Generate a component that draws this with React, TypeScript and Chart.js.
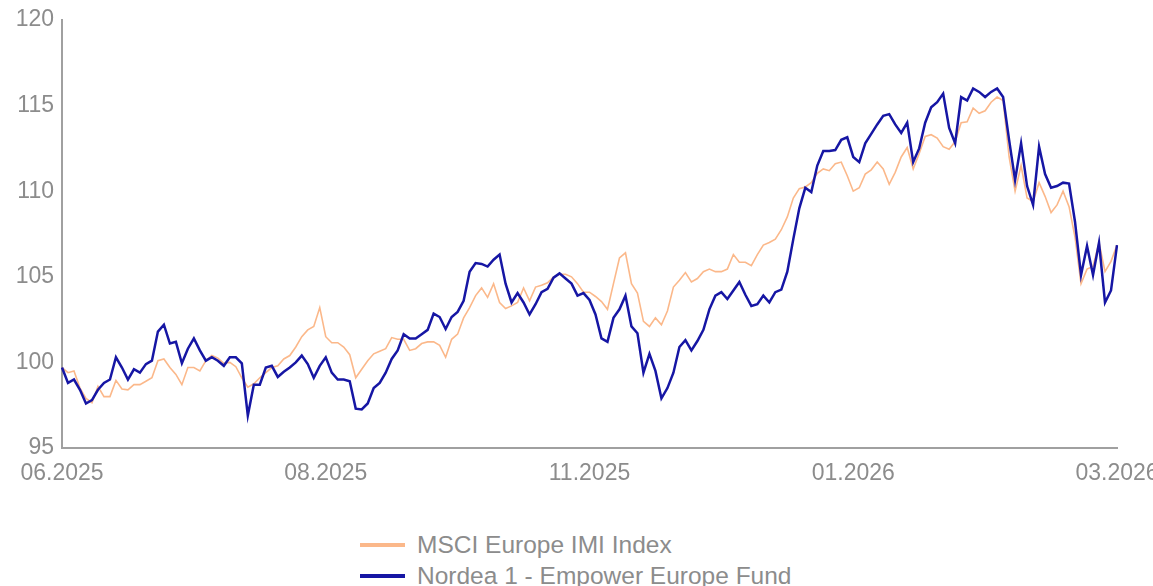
import React, { useEffect, useRef } from "react";
import { Chart, registerables } from "chart.js";

Chart.register(...registerables);

const xTickLabels = ["06.2025", "08.2025", "11.2025", "01.2026", "03.2026"];
const tickEvery = 44;

const seriesNames = ["MSCI Europe IMI Index", "Nordea 1 - Empower Europe Fund"];

const msciValues = [
  99.7, 99.4, 99.5, 98.5, 97.9, 97.65, 98.6, 98.0, 98.0, 98.95,
  98.45, 98.4, 98.7, 98.7, 98.9, 99.1, 100.1, 100.2, 99.7, 99.3,
  98.7, 99.7, 99.7, 99.5, 100.1, 100.4, 100.25, 99.95, 100.0, 99.75,
  99.1, 98.55, 98.75, 99.1, 99.4, 99.7, 99.8, 100.2, 100.4, 100.9,
  101.5, 101.9, 102.1, 103.2, 101.5, 101.15, 101.15, 100.9, 100.45, 99.1,
  99.6, 100.1, 100.5, 100.65, 100.8, 101.45, 101.35, 101.35, 100.7, 100.8,
  101.1, 101.2, 101.2, 101.0, 100.3, 101.35, 101.65, 102.6, 103.2, 103.9,
  104.35, 103.8, 104.6, 103.5, 103.15, 103.3, 103.5, 104.35, 103.6, 104.4,
  104.5, 104.65, 105.0, 105.15, 105.15, 105.0, 104.6, 104.1, 104.1, 103.85,
  103.55, 103.1, 104.6, 106.1, 106.4, 104.6, 104.05, 102.4, 102.1, 102.6,
  102.2, 103.0, 104.4, 104.8, 105.25, 104.7, 104.9, 105.3, 105.45, 105.3,
  105.3, 105.45, 106.3, 105.85, 105.85, 105.65, 106.3, 106.85, 107.0, 107.2,
  107.75, 108.5, 109.6, 110.15, 110.25, 110.5, 111.05, 111.3, 111.2, 111.6,
  111.7, 110.9, 110.0, 110.2, 111.0, 111.25, 111.7, 111.3, 110.4, 111.1,
  112.0, 112.55, 111.3, 112.2, 113.2, 113.3, 113.1, 112.6, 112.45, 112.9,
  114.0, 114.05, 114.85, 114.55, 114.7, 115.2, 115.5, 115.3, 112.0, 110.0,
  111.5, 109.6, 109.4, 110.5, 109.7, 108.75, 109.2, 110.0, 109.1, 107.3,
  104.6, 105.45, 105.6, 107.0, 105.3, 105.9, 106.85
];

const nordeaValues = [
  99.7, 98.8, 99.0, 98.4, 97.6, 97.8, 98.4, 98.8, 99.0, 100.3,
  99.7, 99.0, 99.6, 99.4, 99.9, 100.1, 101.8, 102.2, 101.1, 101.2,
  99.95, 100.8, 101.4, 100.7, 100.1, 100.3, 100.1, 99.8, 100.3, 100.3,
  99.95, 96.9, 98.7, 98.7, 99.7, 99.8, 99.15, 99.45, 99.7, 100.0,
  100.4, 99.9, 99.1, 99.8, 100.3, 99.4, 99.0, 99.0, 98.9, 97.3,
  97.25, 97.6, 98.5, 98.8, 99.4, 100.2, 100.7, 101.65, 101.4, 101.4,
  101.65, 101.9, 102.85, 102.65, 101.95, 102.65, 102.95, 103.6, 105.3, 105.8,
  105.75, 105.6, 106.0, 106.3, 104.6, 103.5, 104.05, 103.5, 102.8, 103.4,
  104.1, 104.3, 104.95, 105.2, 104.9, 104.6, 103.9, 104.05, 103.65, 102.8,
  101.4, 101.2, 102.6, 103.1, 103.9, 102.1, 101.7, 99.4, 100.5, 99.5,
  97.9, 98.5, 99.4, 100.9, 101.3, 100.7, 101.25, 101.9, 103.1, 103.9,
  104.1, 103.7, 104.2, 104.7, 103.95, 103.3, 103.4, 103.9, 103.5, 104.1,
  104.25, 105.3, 107.2, 109.0, 110.2, 109.95, 111.5, 112.35, 112.35, 112.4,
  113.0, 113.15, 112.0, 111.7, 112.8, 113.35, 113.9, 114.4, 114.5, 113.9,
  113.4, 114.0, 111.7, 112.5, 114.0, 114.9, 115.2, 115.7, 113.7, 112.8,
  115.5, 115.3, 116.0, 115.8, 115.5, 115.8, 116.0, 115.5, 113.0, 110.65,
  112.8, 110.3, 109.2, 112.6, 111.0, 110.2, 110.3, 110.5, 110.45, 108.2,
  105.1, 106.8, 105.1, 107.0, 103.5, 104.2, 106.85
];

const yMin = 95;
const yMax = 120;
const yStep = 5;

const msciColor = "#fbb88a";
const nordeaColor = "#1616a4";
const textColor = "#8c8c8c";
const axisColor = "#a0a0a0";
const fontFamily = "'Liberation Sans', Arial, sans-serif";

export default function App() {
  const canvasRef = useRef<HTMLCanvasElement | null>(null);

  useEffect(() => {
    const canvas = canvasRef.current;
    if (!canvas) return;
    const labels = msciValues.map((_, i) => String(i));
    const chart = new Chart(canvas, {
      type: "line",
      data: {
        labels,
        datasets: [
          {
            label: seriesNames[0],
            data: msciValues,
            borderColor: msciColor,
            borderWidth: 1.6,
            pointRadius: 0,
            tension: 0,
            order: 1,
          },
          {
            label: seriesNames[1],
            data: nordeaValues,
            borderColor: nordeaColor,
            borderWidth: 2.5,
            pointRadius: 0,
            tension: 0,
            order: 0,
          },
        ],
      },
      options: {
        responsive: false,
        animation: false,
        events: [],
        layout: { padding: { left: 0, right: 36, top: 20, bottom: 0 } },
        plugins: {
          legend: { display: false },
          tooltip: { enabled: false },
          title: { display: false },
        },
        scales: {
          x: {
            type: "category",
            offset: false,
            grid: { display: false, drawTicks: false },
            border: { display: true, color: axisColor, width: 2 },
            ticks: {
              autoSkip: false,
              maxRotation: 0,
              minRotation: 0,
              padding: 12,
              color: textColor,
              font: { family: fontFamily, size: 23 },
              callback: (_v: any, index: number) =>
                index % tickEvery === 0 ? xTickLabels[index / tickEvery] : null,
            },
            afterFit: (scale: any) => {
              scale.paddingLeft = 0;
              scale.paddingRight = 0;
              scale.height = 72;
            },
          },
          y: {
            min: yMin,
            max: yMax,
            grid: { display: false, drawTicks: false },
            border: { display: true, color: axisColor, width: 2 },
            ticks: {
              stepSize: yStep,
              padding: 8,
              color: textColor,
              font: { family: fontFamily, size: 23 },
            },
            afterFit: (scale: any) => {
              scale.paddingTop = 0;
              scale.paddingBottom = 0;
              scale.width = 62;
            },
          },
        },
      },
    });
    return () => chart.destroy();
  }, []);

  const legendRow = (color: string, text: string, thick: number) => (
    <div style={{ display: "flex", alignItems: "center", height: 31 }}>
      <span
        style={{
          display: "inline-block",
          width: 45,
          height: thick,
          background: color,
          marginRight: 12,
        }}
      />
      <span style={{ whiteSpace: "nowrap" }}>{text}</span>
    </div>
  );

  return (
    <div
      style={{
        position: "fixed",
        left: 0,
        top: 0,
        width: 1153,
        height: 586,
        overflow: "hidden",
        background: "#fff",
      }}
    >
      <canvas
        ref={canvasRef}
        width={1153}
        height={520}
        style={{ position: "absolute", left: 0, top: 0, width: 1153, height: 520 }}
      />
      <div
        style={{
          position: "absolute",
          left: 360,
          top: 529,
          fontFamily,
          fontSize: 24.5,
          color: textColor,
          lineHeight: "31px",
        }}
      >
        {legendRow(msciColor, seriesNames[0], 4)}
        {legendRow(nordeaColor, seriesNames[1], 4)}
      </div>
    </div>
  );
}
